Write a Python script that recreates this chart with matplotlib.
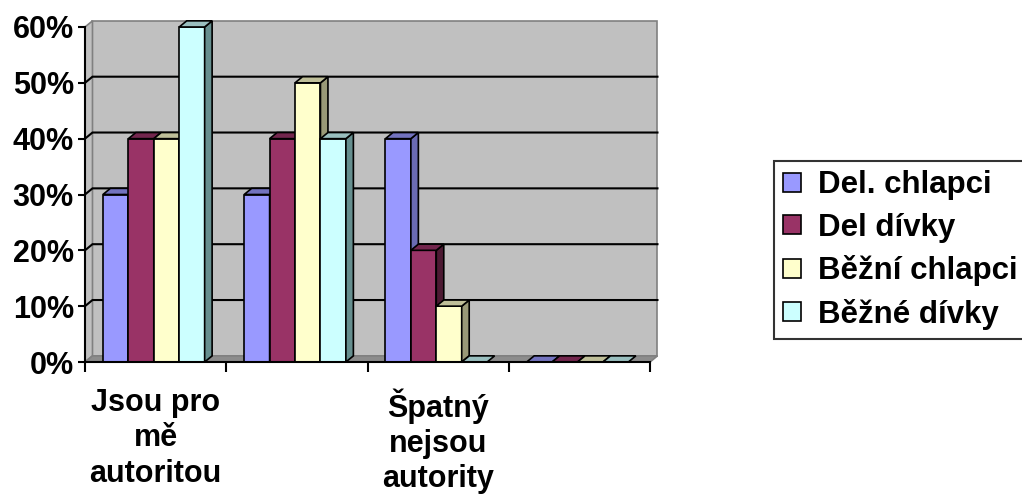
import numpy as np
import matplotlib.pyplot as plt
from matplotlib.patches import Polygon, Patch

categories = ["Jsou pro\nmě\nautoritou", "", "Špatný\nnejsou\nautority", ""]
series = ["Del. chlapci", "Del dívky", "Běžní chlapci", "Běžné dívky"]
values = [
    [30, 30, 40, 0],   # Del. chlapci
    [40, 40, 20, 0],   # Del dívky
    [40, 50, 10, 0],   # Běžní chlapci
    [60, 40, 0, 0],    # Běžné dívky
]
yticks = [0, 10, 20, 30, 40, 50, 60]

front = ["#9999FF", "#993366", "#FFFFCC", "#CCFFFF"]
top = ["#7373BF", "#73264D", "#BFBF99", "#99BFBF"]
side = ["#6B6BB3", "#4D1A33", "#999977", "#668F8F"]

plt.rcParams["font.family"] = ["Liberation Sans", "DejaVu Sans"]
plt.rcParams["font.weight"] = "bold"

fig = plt.figure(figsize=(10.22, 4.95), dpi=100)
ax = fig.add_axes([85 / 1022, 1 - 362 / 495, 565 / 1022, 335 / 495])
ax.set_xlim(0, 4)
ax.set_ylim(0, 60)

dx, dy = 0.053, 1.1   # depth of the 3D effect in data units
lw = 1.2
wall = "#C0C0C0"
wall_edge = "#808080"

# walls and floor
ax.add_patch(Polygon([(dx, dy), (4 + dx, dy), (4 + dx, 60 + dy), (dx, 60 + dy)],
                     closed=True, fc=wall, ec=wall_edge, lw=lw, clip_on=False, zorder=1))
ax.add_patch(Polygon([(0, 0), (dx, dy), (dx, 60 + dy), (0, 60)],
                     closed=True, fc=wall, ec=wall_edge, lw=lw, clip_on=False, zorder=1))
ax.add_patch(Polygon([(0, 0), (4, 0), (4 + dx, dy), (dx, dy)],
                     closed=True, fc="#8C8C8C", ec=wall_edge, lw=lw, clip_on=False, zorder=1))
for v in yticks[1:-1]:
    ax.plot([0, dx, 4 + dx], [v, v + dy, v + dy], color="black", lw=1.5,
            clip_on=False, zorder=2, solid_joinstyle="miter")

# bars
gap = 0.127
bw = 0.18
for i in range(len(categories)):
    for j in range(len(series)):
        h = values[j][i]
        xl = i + gap + j * bw
        xr = xl + bw
        z = 3 + j * 0.1
        if h > 0:
            ax.add_patch(Polygon([(xl, 0), (xr, 0), (xr, h), (xl, h)], closed=True,
                                 fc=front[j], ec="black", lw=lw, clip_on=False, zorder=z))
            ax.add_patch(Polygon([(xr, 0), (xr + dx, dy), (xr + dx, h + dy), (xr, h)], closed=True,
                                 fc=side[j], ec="black", lw=lw, clip_on=False, zorder=z))
        ax.add_patch(Polygon([(xl, h), (xr, h), (xr + dx, h + dy), (xl + dx, h + dy)], closed=True,
                             fc=top[j], ec="black", lw=lw, clip_on=False, zorder=z))

for s in ["top", "right"]:
    ax.spines[s].set_visible(False)
for s in ["left", "bottom"]:
    ax.spines[s].set_color("black")
    ax.spines[s].set_linewidth(1.5)
    ax.spines[s].set_zorder(5)
ax.patch.set_visible(False)

ax.set_yticks(yticks)
ax.set_yticklabels([f"{v}%" for v in yticks])
ax.tick_params(axis="y", direction="out", length=5, width=1.5, pad=3, labelsize=22)
ax.set_xticks(range(len(categories) + 1))
ax.set_xticklabels([])
ax.tick_params(axis="x", which="major", direction="out", length=7, width=1.5)
ax.set_xticks(np.arange(len(categories)) + 0.5, minor=True)
ax.set_xticklabels(categories, minor=True, fontsize=22, linespacing=1.22)
ax.tick_params(axis="x", which="minor", length=0, pad=19)

handles = [Patch(fc=front[j], ec="black", lw=1.2) for j in range(len(series))]
leg = fig.legend(handles, series, loc="upper left", bbox_to_anchor=(774 / 1022, 1 - 161 / 495),
                 fontsize=22.5, frameon=True, fancybox=False, handlelength=0.55, handleheight=0.55,
                 handletextpad=0.55, labelspacing=0.4, borderpad=0.3, borderaxespad=0)
leg.get_frame().set_edgecolor("black")
leg.get_frame().set_linewidth(1.5)

fig.savefig("out.png", dpi=100)
